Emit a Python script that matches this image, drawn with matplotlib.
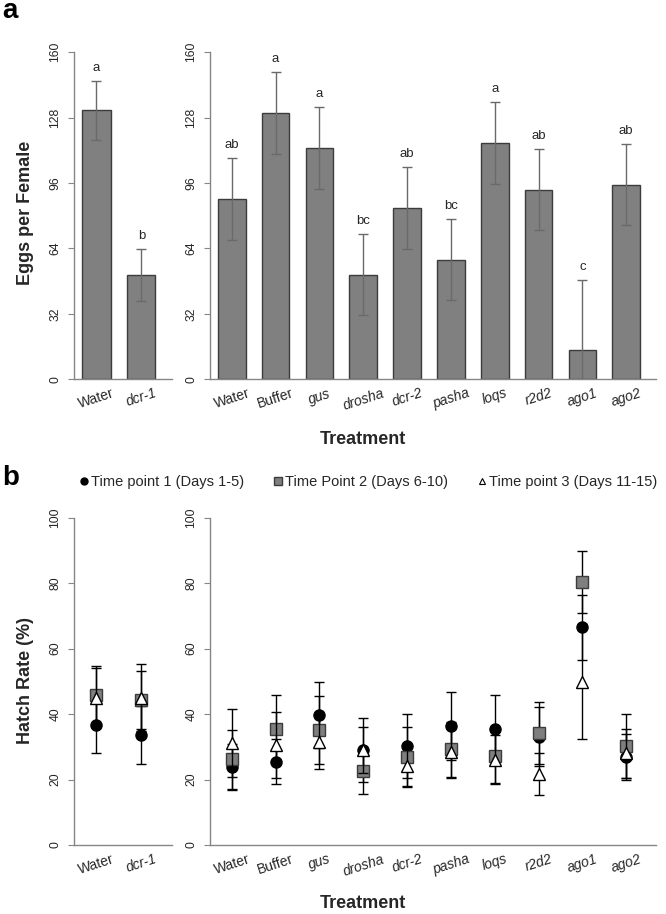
import matplotlib.pyplot as plt
from matplotlib.lines import Line2D

plt.rcParams['font.family'] = ['Liberation Sans', 'DejaVu Sans']

ctrl_names = ['Water', 'dcr-1']
gene_names = ['Water', 'Buffer', 'gus', 'drosha', 'dcr-2', 'pasha', 'loqs', 'r2d2', 'ago1', 'ago2']
upright = ['Water', 'Buffer']

# panel a - eggs per female
eggs_ctrl = [131.5, 51]
eggs_ctrl_err = [14.5, 12.7]
eggs_ctrl_sig = ['a', 'b']
eggs_genes = [88, 130.3, 113.3, 51.2, 83.8, 58.5, 115.6, 92.8, 14.3, 95.2]
eggs_genes_err = [20, 20, 20, 19.7, 20, 19.8, 20, 20, 34.5, 19.8]
eggs_genes_sig = ['ab', 'a', 'a', 'bc', 'ab', 'bc', 'a', 'ab', 'c', 'ab']

# panel b - hatch rate, three time points
t1_ctrl = [36.7, 33.6]
t1_ctrl_err = [8.5, 8.9]
t2_ctrl = [45.8, 44.3]
t2_ctrl_err = [8.9, 8.9]
t3_ctrl = [45, 45]
t3_ctrl_err = [9, 10.2]

t1_genes = [23.9, 25.5, 39.7, 29, 30.2, 36.4, 35.6, 33.1, 66.5, 26.8]
t1_genes_err = [7, 7, 10, 9.7, 9.8, 10.4, 10.2, 9, 10, 7]
t2_genes = [26.2, 35.6, 35.1, 22.7, 27, 29.2, 27.3, 34.1, 80.3, 30.2]
t2_genes_err = [9, 10.2, 10.4, 7, 9.1, 8.5, 8.5, 9.5, 9.5, 9.8]
t3_genes = [31.1, 30.6, 31.6, 29, 24.1, 28.5, 26, 21.7, 49.9, 28]
t3_genes_err = [10.4, 10, 8.5, 7, 6.5, 8, 7.5, 6.4, 17.6, 7.5]

legend_labels = ['Time point 1 (Days 1-5)', 'Time Point 2 (Days 6-10)', 'Time point 3 (Days 11-15)']

gray = '#868686'
txt = '#262626'

fig = plt.figure(figsize=(6.66, 9.14), dpi=100)

ax_a1 = fig.add_axes([0.111, 0.585, 0.147, 0.358])
ax_a2 = fig.add_axes([0.315, 0.585, 0.670, 0.358])
ax_b1 = fig.add_axes([0.111, 0.0755, 0.147, 0.358])
ax_b2 = fig.add_axes([0.315, 0.0755, 0.670, 0.358])


def style_axis(ax, names, ticks, top):
    n = len(names)
    ax.set_xlim(-0.5, n - 0.32)
    ax.set_ylim(0, top)
    ax.set_yticks(ticks)
    for s in ['top', 'right']:
        ax.spines[s].set_visible(False)
    for s in ['left', 'bottom']:
        ax.spines[s].set_color(gray)
        ax.spines[s].set_linewidth(1.0)
    ax.tick_params(axis='y', direction='out', length=4, color=gray, labelsize=8.7,
                   labelrotation=90, pad=5, labelcolor=txt)
    ax.tick_params(axis='x', length=0, pad=5)
    ax.set_xticks(range(n))
    ax.set_xticklabels(names, rotation=18, fontsize=10, color=txt)
    for lab in ax.get_xticklabels():
        if lab.get_text() not in upright:
            lab.set_style('italic')
    for lab in ax.get_yticklabels():
        lab.set_va('center')


def bars(ax, vals, errs, sig):
    x = range(len(vals))
    ax.bar(x, vals, width=0.63, color='#808080', edgecolor='#3c3c3c', linewidth=1.0, zorder=2)
    ax.errorbar(x, vals, yerr=errs, fmt='none', ecolor='#6a6a6a', elinewidth=1.0,
                capsize=3.5, capthick=1.0, zorder=3)
    for xi, v, e, s in zip(x, vals, errs, sig):
        ax.annotate(s, (xi, v + e), xytext=(0, 5), textcoords='offset points',
                    ha='center', va='bottom', fontsize=9.5, color=txt)


def points(ax, t1, e1, t2, e2, t3, e3):
    x = range(len(t1))
    ax.errorbar(x, t1, yerr=e1, fmt='o', ms=8, mfc='black', mec='black', ecolor='black',
                elinewidth=1, capsize=3.5, capthick=1, zorder=3)
    ax.errorbar(x, t2, yerr=e2, fmt='s', ms=8.5, mfc='#7f7f7f', mec='#3c3c3c', mew=1,
                ecolor='black', elinewidth=1, capsize=3.5, capthick=1, zorder=4)
    ax.errorbar(x, t3, yerr=e3, fmt='^', ms=9, mfc='white', mec='black', mew=1,
                ecolor='black', elinewidth=1, capsize=3.5, capthick=1, zorder=5)


bars(ax_a1, eggs_ctrl, eggs_ctrl_err, eggs_ctrl_sig)
bars(ax_a2, eggs_genes, eggs_genes_err, eggs_genes_sig)
style_axis(ax_a1, ctrl_names, [0, 32, 64, 96, 128, 160], 160)
style_axis(ax_a2, gene_names, [0, 32, 64, 96, 128, 160], 160)

points(ax_b1, t1_ctrl, t1_ctrl_err, t2_ctrl, t2_ctrl_err, t3_ctrl, t3_ctrl_err)
points(ax_b2, t1_genes, t1_genes_err, t2_genes, t2_genes_err, t3_genes, t3_genes_err)
style_axis(ax_b1, ctrl_names, [0, 20, 40, 60, 80, 100], 100)
style_axis(ax_b2, gene_names, [0, 20, 40, 60, 80, 100], 100)

fig.text(0.038, 0.767, 'Eggs per Female', rotation=90, ha='center', va='center',
         fontsize=13, fontweight='bold', color=txt)
fig.text(0.038, 0.256, 'Hatch Rate (%)', rotation=90, ha='center', va='center',
         fontsize=13, fontweight='bold', color=txt)
fig.text(0.545, 0.519, 'Treatment', ha='center', va='center', fontsize=13,
         fontweight='bold', color=txt)
fig.text(0.545, 0.011, 'Treatment', ha='center', va='center', fontsize=13,
         fontweight='bold', color=txt)
fig.text(0.003, 1 - 18 / 914, 'a', ha='left', va='baseline', fontsize=20, fontweight='bold')
fig.text(0.003, 1 - 485 / 914, 'b', ha='left', va='baseline', fontsize=20, fontweight='bold')

handles = [
    Line2D([], [], ls='none', marker='o', ms=5, mfc='black', mec='black'),
    Line2D([], [], ls='none', marker='s', ms=5.5, mfc='#7f7f7f', mec='#3c3c3c'),
    Line2D([], [], ls='none', marker='^', ms=5, mfc='white', mec='black', mew=0.8),
]
fig.legend(handles, legend_labels, loc='center', bbox_to_anchor=(0.553, 1 - 481.7 / 914),
           ncol=3, frameon=False, fontsize=10.5, handlelength=0.6, handletextpad=0.2,
           columnspacing=2.0, borderpad=0, labelcolor=txt)

plt.savefig('out.png', dpi=100)
